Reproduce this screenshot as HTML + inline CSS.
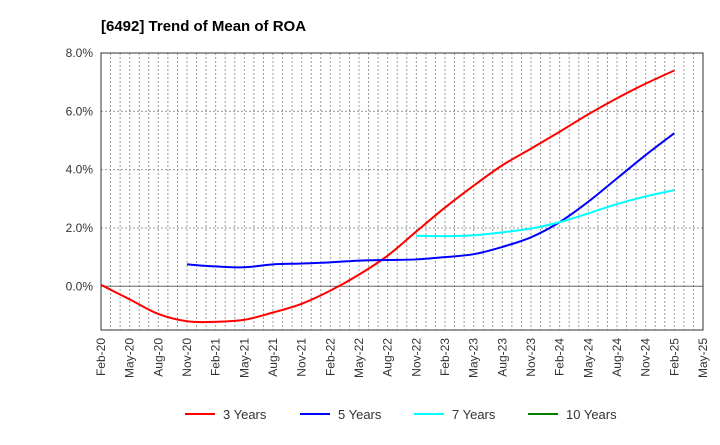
<!DOCTYPE html>
<html><head><meta charset="utf-8"><style>
body{margin:0;background:#fff;font-family:"Liberation Sans",sans-serif}
</style></head><body>
<svg id="chart" width="720" height="440" xmlns="http://www.w3.org/2000/svg">
<text x="101" y="31" font-size="15" font-weight="bold" fill="#000">[6492]  Trend of Mean of ROA</text>
<g id="grid"></g><g id="axes"></g><g id="series"></g><g id="legend"></g>
</svg>
<script>
const xLabels=["Feb-20","May-20","Aug-20","Nov-20","Feb-21","May-21","Aug-21","Nov-21","Feb-22","May-22","Aug-22","Nov-22","Feb-23","May-23","Aug-23","Nov-23","Feb-24","May-24","Aug-24","Nov-24","Feb-25","May-25"];
const yTicks=[0,2,4,6,8];
const yTickLabels=["0.0%","2.0%","4.0%","6.0%","8.0%"];
const s3=[0.05,-0.45,-0.95,-1.2,-1.22,-1.15,-0.9,-0.6,-0.15,0.4,1.05,1.88,2.7,3.45,4.15,4.72,5.3,5.9,6.45,6.95,7.4];
const s5=[0.75,0.68,0.65,0.75,0.78,0.82,0.88,0.9,0.92,1.0,1.1,1.35,1.68,2.2,2.9,3.7,4.5,5.25];
const s7=[1.73,1.72,1.75,1.85,1.98,2.2,2.5,2.82,3.08,3.3];
const s10=[];
const series=[{n:"3 Years",c:"#ff0000",d:s3,start:0},{n:"5 Years",c:"#0000ff",d:s5,start:3},{n:"7 Years",c:"#00ffff",d:s7,start:11},{n:"10 Years",c:"#008000",d:s10,start:0}];
const L=101,R=703,T=53,B=330,yMin=-1.5,yMax=8;
const X=i=>L+(R-L)*i/(xLabels.length-1);
const Y=v=>B-(v-yMin)/(yMax-yMin)*(B-T);
const NS="http://www.w3.org/2000/svg";
function mk(tag,at,parent){const e=document.createElementNS(NS,tag);for(const k in at)e.setAttribute(k,at[k]);parent.appendChild(e);return e;}
const grid=document.getElementById('grid'),axes=document.getElementById('axes'),ser=document.getElementById('series'),leg=document.getElementById('legend');
for(let m=1;m<(xLabels.length-1)*3;m++){const x=L+(R-L)*m/((xLabels.length-1)*3);
const g=mk('line',{x1:x,x2:x,y1:T,y2:B,stroke:'#999','stroke-dasharray':'2,2','stroke-width':1},grid);
}
yTicks.forEach((v,i)=>{const y=Y(v);
const g=mk('line',{x1:L,x2:R,y1:y,y2:y,stroke:v===0?'#666':'#999','stroke-dasharray':v===0?'none':'2,2','stroke-width':1},grid);

const t=mk('text',{x:L-8,y:y+4,'text-anchor':'end','font-size':12,fill:'#333'},axes);t.textContent=yTickLabels[i];
});
const fr=mk('rect',{x:L,y:T,width:R-L,height:B-T,fill:'none',stroke:'#333','stroke-width':1},axes);

xLabels.forEach((l,i)=>{const x=X(i);const t=mk('text',{x:x+4,y:B+8,'text-anchor':'end','font-size':12,fill:'#333',transform:`rotate(-90 ${x+4} ${B+8})`},axes);t.textContent=l;
});
series.forEach(s=>{if(!s.d.length)return;const p=s.d.map((v,i)=>[X(s.start+i),Y(v)]);
let d=`M${p[0][0]},${p[0][1]}`;
for(let i=0;i<p.length-1;i++){const p0=p[i-1]||p[i],p1=p[i],p2=p[i+1],p3=p[i+2]||p2;
d+=` C${p1[0]+(p2[0]-p0[0])/6},${p1[1]+(p2[1]-p0[1])/6} ${p2[0]-(p3[0]-p1[0])/6},${p2[1]-(p3[1]-p1[1])/6} ${p2[0]},${p2[1]}`;}
const e=mk('path',{d:d,fill:'none',stroke:s.c,'stroke-width':2},ser);
});
const lx=[185,300,414,528];
series.forEach((s,i)=>{const g=mk('g',{},leg);

mk('line',{x1:lx[i],x2:lx[i]+30,y1:414,y2:414,stroke:s.c,'stroke-width':2},g);
const t=mk('text',{x:lx[i]+38,y:419,'font-size':13,fill:'#333'},g);t.textContent=s.n;});
</script>
</body></html>
